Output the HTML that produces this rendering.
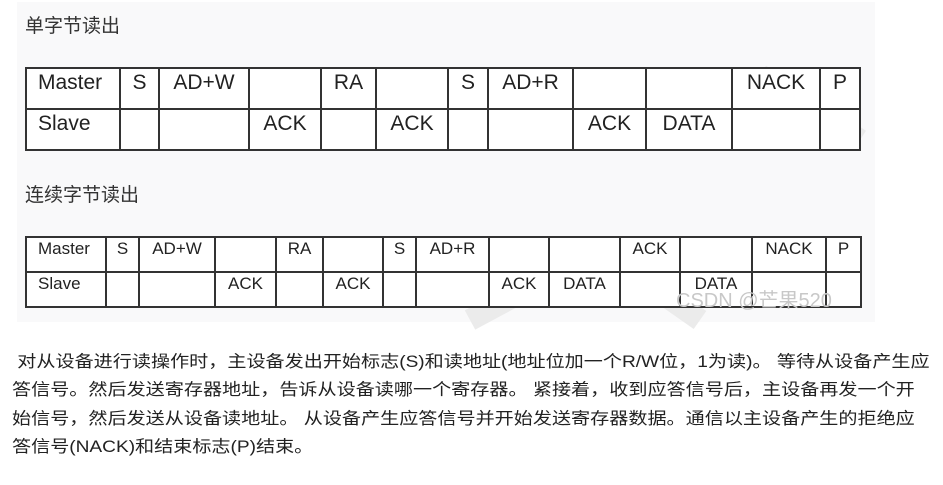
<!DOCTYPE html>
<html><head><meta charset="utf-8"><style>
body{margin:0;width:943px;height:485px;background:#fff;position:relative;overflow:hidden;font-family:"Liberation Sans","Noto Sans CJK SC",sans-serif;}
.bg{position:absolute;left:17px;top:2px;width:858px;height:320px;background:#f9f9fa;}
.t{position:absolute;font-size:19px;color:#333;}
table{position:absolute;border-collapse:collapse;background:#fff;table-layout:fixed;}
td{border:2px solid #333;padding:0;vertical-align:top;color:#222;overflow:hidden;white-space:nowrap;}
#t1 td{font-size:21px;height:37px;padding-top:2px;text-align:center}
#t2 td{font-size:17px;height:32px;padding-top:1px;text-align:center}
td.l{text-align:left !important;padding-left:11px}
.p{position:absolute;left:12px;top:348px;font-size:16.4px;line-height:28.3px;color:#222;white-space:nowrap;transform:scaleX(1.165);transform-origin:0 0;}
.wm{position:absolute;left:676px;top:284px;font-size:20px;color:#c8c8c8;}
</style></head><body>
<div class="bg"></div>
<svg style="position:absolute;left:0;top:0" width="943" height="330"><g stroke="#ebebeb" stroke-width="22" fill="none"><path d="M760 75 L860 140"/><path d="M470 320 L600 250 L700 320"/></g></svg>
<div class="t" style="left:25px;top:11px">单字节读出</div>
<table id="t1" style="left:25px;top:67px;width:835px">
<colgroup><col style="width:94px"><col style="width:39px"><col style="width:90px"><col style="width:72px"><col style="width:55px"><col style="width:72px"><col style="width:40px"><col style="width:85px"><col style="width:73px"><col style="width:86px"><col style="width:88px"><col style="width:40px"></colgroup>
<tr><td class="l">Master</td><td>S</td><td>AD+W</td><td></td><td>RA</td><td></td><td>S</td><td>AD+R</td><td></td><td></td><td>NACK</td><td>P</td></tr>
<tr><td class="l">Slave</td><td></td><td></td><td>ACK</td><td></td><td>ACK</td><td></td><td></td><td>ACK</td><td>DATA</td><td></td><td></td></tr>
</table>
<div class="t" style="left:25px;top:180px">连续字节读出</div>
<table id="t2" style="left:25px;top:236px;width:835px">
<colgroup><col style="width:80px"><col style="width:33px"><col style="width:76px"><col style="width:61px"><col style="width:47px"><col style="width:60px"><col style="width:33px"><col style="width:73px"><col style="width:60px"><col style="width:71px"><col style="width:60px"><col style="width:72px"><col style="width:74px"><col style="width:35px"></colgroup>
<tr><td class="l">Master</td><td>S</td><td>AD+W</td><td></td><td>RA</td><td></td><td>S</td><td>AD+R</td><td></td><td></td><td>ACK</td><td></td><td>NACK</td><td>P</td></tr>
<tr><td class="l">Slave</td><td></td><td></td><td>ACK</td><td></td><td>ACK</td><td></td><td></td><td>ACK</td><td>DATA</td><td></td><td>DATA</td><td></td><td></td></tr>
</table>
<div class="wm">CSDN @芒果520</div>
<div class="p">&nbsp;对从设备进行读操作时，主设备发出开始标志(S)和读地址(地址位加一个R/W位，1为读)。 等待从设备产生应<br>答信号。然后发送寄存器地址，告诉从设备读哪一个寄存器。 紧接着，收到应答信号后，主设备再发一个开<br>始信号，然后发送从设备读地址。 从设备产生应答信号并开始发送寄存器数据。通信以主设备产生的拒绝应<br>答信号(NACK)和结束标志(P)结束。</div>
</body></html>
